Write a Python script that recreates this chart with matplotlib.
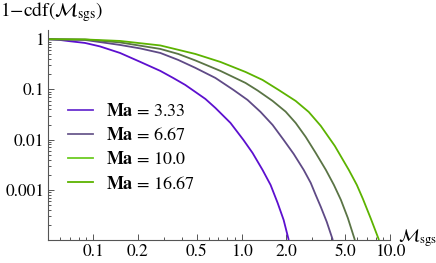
import matplotlib
matplotlib.use("Agg")
import matplotlib.pyplot as plt
from matplotlib.lines import Line2D
from matplotlib.ticker import FixedLocator, NullFormatter

plt.rcParams["font.family"] = "STIXGeneral"
plt.rcParams["mathtext.fontset"] = "stix"

# ---- data (x = M_sgs, y = 1 - cdf) -----------------------------------------
x_333 = [0.05, 0.0598, 0.070, 0.0883, 0.1115, 0.152, 0.208, 0.284, 0.347, 0.418, 0.489,
         0.571, 0.667, 0.843, 1.03, 1.187, 1.386, 1.570, 1.751, 1.922, 2.08]
y_333 = [1.0, 0.968, 0.912, 0.844, 0.719, 0.533, 0.354, 0.234, 0.169, 0.123, 0.0891,
         0.0647, 0.0428, 0.0215, 0.00987, 0.00543, 0.00249, 0.00125, 0.000548, 0.000251, 1.0e-4]

x_667 = [0.05, 0.0883, 0.152, 0.208, 0.284, 0.375, 0.489, 0.667, 0.883, 1.098, 1.344,
         1.62, 1.922, 2.246, 2.624, 2.925, 3.16, 3.42, 3.75, 4.12]
y_667 = [1.0, 0.968, 0.770, 0.656, 0.533, 0.387, 0.269, 0.1695, 0.0977, 0.0618, 0.0356,
         0.0196, 0.00987, 0.00519, 0.00249, 0.001375, 0.00079, 0.000457, 0.00023, 1.0e-4]

x_10 = [0.05, 0.0883, 0.152, 0.284, 0.375, 0.489, 0.721, 1.064, 1.282, 1.62, 1.982,
        2.316, 2.706, 3.16, 3.70, 4.19, 4.67, 5.20, 5.80]
y_10 = [1.0, 0.99, 0.864, 0.641, 0.509, 0.378, 0.234, 0.1348, 0.0955, 0.059, 0.0361,
        0.0215, 0.01132, 0.00543, 0.00249, 0.00125, 0.00063, 0.000275, 1.0e-4]

x_1667 = [0.05, 0.0883, 0.152, 0.284, 0.489, 0.721, 1.064, 1.386, 1.778, 2.316, 2.836,
          3.42, 4.25, 5.28, 5.98, 6.57, 7.44, 8.43]
y_1667 = [1.0, 0.99, 0.925, 0.752, 0.509, 0.353, 0.223, 0.1546, 0.0977, 0.059, 0.0356,
          0.01875, 0.00748, 0.00249, 0.00125, 0.000659, 0.000263, 1.0e-4]

labels = ["3.33", "6.67", "10.0", "16.67"]
curve_colors = ["#5c0fcf", "#5f4a86", "#5a7445", "#5cb300"]
legend_colors = ["#6a30d0", "#6b5a8e", "#6ccc22", "#5cb300"]

x_ticks = [0.1, 0.2, 0.5, 1.0, 2.0, 5.0, 10.0]
x_ticklabels = ["0.1", "0.2", "0.5", "1.0", "2.0", "5.0", "10.0"]
y_ticks = [1, 0.1, 0.01, 0.001]
y_ticklabels = ["1", "0.1", "0.01", "0.001"]


def main():
    fig = plt.figure(figsize=(4.36, 2.63), dpi=100)
    ax = fig.add_axes([48.3 / 436, 1 - 240 / 263, (390 - 48.3) / 436, 209.6 / 263])

    series = [(x_333, y_333), (x_667, y_667), (x_10, y_10), (x_1667, y_1667)]
    for (xs, ys), c in zip(series, curve_colors):
        ax.plot(xs, ys, color=c, lw=1.3, solid_capstyle="butt", solid_joinstyle="round")

    ax.set_xscale("log"); ax.set_yscale("log")
    ax.set_xlim(0.05, 10.0); ax.set_ylim(1e-4, 1.5)

    for s in ["top", "right"]:
        ax.spines[s].set_visible(False)
    for s in ["left", "bottom"]:
        ax.spines[s].set_color("#555555"); ax.spines[s].set_linewidth(0.8)

    ax.xaxis.set_major_locator(FixedLocator(x_ticks))
    ax.set_xticklabels(x_ticklabels)
    ax.xaxis.set_minor_locator(FixedLocator(
        [0.06, 0.07, 0.08, 0.09, 0.3, 0.4, 0.6, 0.7, 0.8, 0.9, 3, 4, 6, 7, 8, 9]))
    ax.xaxis.set_minor_formatter(NullFormatter())
    ax.yaxis.set_major_locator(FixedLocator(y_ticks))
    ax.set_yticklabels(y_ticklabels)
    ax.yaxis.set_minor_locator(FixedLocator(
        [k * 10.0 ** e for e in (-4, -3, -2, -1, 0) for k in range(2, 10) if k * 10.0 ** e < 1.5]))
    ax.yaxis.set_minor_formatter(NullFormatter())
    ax.tick_params(which="both", direction="in", color="#555555", labelsize=12.5, width=0.7)
    ax.tick_params(which="major", length=4, pad=3)
    ax.tick_params(which="minor", length=2)

    handles = [Line2D([], [], color=c, lw=1.3) for c in legend_colors]
    ax.legend(handles, [r"$\mathbf{Ma}$ = " + l for l in labels],
              loc="upper left", bbox_to_anchor=(68 / 436, 1 - 103 / 263),
              bbox_transform=fig.transFigure, frameon=False, fontsize=13,
              borderpad=0, borderaxespad=0, handlelength=1.4, handletextpad=0.7,
              labelspacing=0.4)

    fig.text(0.0, 1 - 12 / 263, r"1$-$cdf($\mathcal{M}_{\rm sgs}$)", fontsize=14,
             ha="left", va="center")
    fig.text(398 / 436, 1 - 238 / 263, r"$\mathcal{M}_{\rm sgs}$", fontsize=13,
             ha="left", va="center")

    fig.savefig("out.png", dpi=100)
    plt.close(fig)


if __name__ == "__main__":
    main()
